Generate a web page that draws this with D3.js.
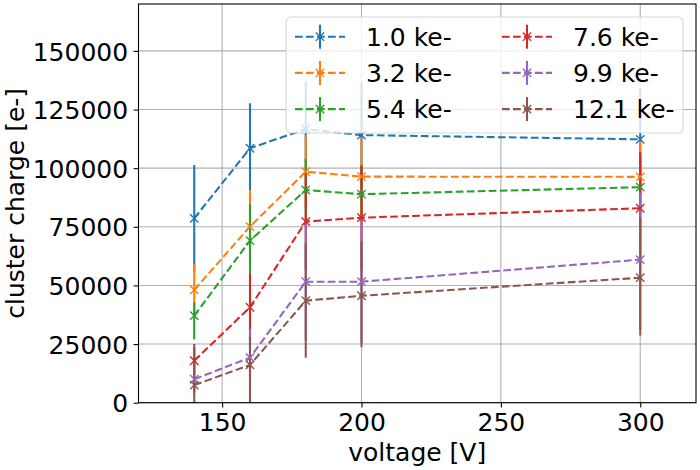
<!DOCTYPE html>
<html><head><meta charset="utf-8">
<script src="https://cdn.jsdelivr.net/npm/d3@7"></script>
<style>
body{margin:0;background:#fff}
svg{display:block}
text{font-family:"DejaVu Sans",sans-serif;fill:#000}
</style>
</head><body>
<svg id="chart" width="700" height="470"></svg>
<script>
// ---------- data ----------
const voltages = [140, 160, 180, 200, 300];
const seriesLabels = ["1.0 ke-", "3.2 ke-", "5.4 ke-", "7.6 ke-", "9.9 ke-", "12.1 ke-"];
const seriesColors = ["#1f77b4", "#ff7f0e", "#2ca02c", "#d62728", "#9467bd", "#8c564b"];
const chargeMean = [
  [78600, 108500, 116700, 114100, 112300],
  [48100, 75100, 98500, 96400, 96300],
  [37100, 69100, 90700, 88900, 91900],
  [17900, 40700, 77200, 78900, 82900],
  [10000, 19200, 51600, 51600, 61000],
  [7500, 16100, 43500, 45600, 53300]
];
const chargeLow = [
  [55800, 89300, 96500, 91500, 90500],
  [37000, 59500, 83000, 80000, 81000],
  [27000, 53500, 77500, 77000, 80000],
  [12000, 26500, 56600, 56700, 59000],
  [4000, 7100, 26700, 25300, 31300],
  [-10000, -4000, 19200, 23600, 28600]
];
const chargeHigh = [
  [101400, 127700, 136900, 136500, 134100],
  [59100, 90700, 114000, 113000, 111500],
  [42700, 84700, 103900, 101000, 104000],
  [23500, 54900, 97800, 101100, 106800],
  [16000, 31300, 76500, 77900, 89500],
  [25000, 28200, 68000, 68700, 79100]
];
const xTicks = [150, 200, 250, 300];
const yTicks = [0, 25000, 50000, 75000, 100000, 125000, 150000];
const xDomain = [120, 320];
const yDomain = [0, 170000];
const xLabel = "voltage [V]";
const yLabel = "cluster charge [e-]";

// ---------- layout ----------
const W = 700, H = 470;
const L = 138.5, R = 696, T = 4, B = 402.7;
const FS = 25;
const LW = 2.08;
const DASH = "7.7,3.3";

const svg = d3.select("#chart");
const x = d3.scaleLinear().domain(xDomain).range([L, R]);
const y = d3.scaleLinear().domain(yDomain).range([B, T]);

svg.append("defs").append("clipPath").attr("id", "plotclip")
  .append("rect").attr("x", L).attr("y", T).attr("width", R - L).attr("height", B - T);

// grid
const grid = svg.append("g");
grid.selectAll(".gx").data(xTicks).join("line")
  .attr("x1", d => x(d)).attr("x2", d => x(d)).attr("y1", T).attr("y2", B)
  .attr("stroke", "#b0b0b0").attr("stroke-width", 1.1);
grid.selectAll(".gy").data(yTicks).join("line")
  .attr("y1", d => y(d)).attr("y2", d => y(d)).attr("x1", L).attr("x2", R)
  .attr("stroke", "#b0b0b0").attr("stroke-width", 1.1);

const plot = svg.append("g").attr("clip-path", "url(#plotclip)");

// error bars (all below lines, like matplotlib zorder)
chargeMean.forEach((s, i) => {
  plot.append("g").selectAll("line").data(voltages).join("line")
    .attr("x1", d => x(d)).attr("x2", d => x(d))
    .attr("y1", (d, j) => y(chargeLow[i][j])).attr("y2", (d, j) => y(chargeHigh[i][j]))
    .attr("stroke", seriesColors[i]).attr("stroke-width", LW);
});

// lines + markers
const line = d3.line().x(d => x(d[0])).y(d => y(d[1]));
const ms = 4.17;
function marker(g, cx, cy, color) {
  g.append("path")
    .attr("d", `M${cx - ms},${cy - ms}L${cx + ms},${cy + ms}M${cx - ms},${cy + ms}L${cx + ms},${cy - ms}`)
    .attr("stroke", color).attr("stroke-width", 1.4).attr("fill", "none");
}
chargeMean.forEach((s, i) => {
  const pts = voltages.map((v, j) => [v, s[j]]);
  plot.append("path").datum(pts).attr("d", line)
    .attr("fill", "none").attr("stroke", seriesColors[i]).attr("stroke-width", LW)
    .attr("stroke-dasharray", DASH);
  const mg = plot.append("g");
  pts.forEach(p => marker(mg, x(p[0]), y(p[1]), seriesColors[i]));
});

// axes
const xAxis = svg.append("g").attr("transform", `translate(0,${B})`)
  .call(d3.axisBottom(x).tickValues(xTicks).tickSize(4.9).tickSizeOuter(0).tickPadding(4.9).tickFormat(d3.format("d")));
xAxis.selectAll("text").attr("font-size", FS).attr("dy", "0.76em");
const yAxis = svg.append("g").attr("transform", `translate(${L},0)`)
  .call(d3.axisLeft(y).tickValues(yTicks).tickSize(4.9).tickSizeOuter(0).tickPadding(5.5).tickFormat(d3.format("d")));
yAxis.selectAll("text").attr("font-size", FS).attr("dy", "0.364em");
[xAxis, yAxis].forEach(a => {
  a.select(".domain").remove();
  a.selectAll(".tick line").attr("stroke", "#000").attr("stroke-width", 1.1);
  a.attr("font-family", null);
});

// spines
svg.append("rect").attr("x", L).attr("y", T).attr("width", R - L).attr("height", B - T)
  .attr("fill", "none").attr("stroke", "#000").attr("stroke-width", 1.1);

// axis labels
svg.append("text").attr("x", (L + R) / 2).attr("y", 461).attr("text-anchor", "middle")
  .attr("font-size", FS).text(xLabel);
svg.append("text").attr("transform", `translate(23.5,${(T + B) / 2}) rotate(-90)`)
  .attr("text-anchor", "middle").attr("font-size", FS).text(yLabel);

// legend
const lg = svg.append("g");
lg.append("rect").attr("x", 286).attr("y", 17).attr("width", 397).attr("height", 116)
  .attr("rx", 5).attr("fill", "#fff").attr("fill-opacity", 0.8)
  .attr("stroke", "#cccccc").attr("stroke-opacity", 0.8).attr("stroke-width", 1.1);
const colX = [295, 502];
const rowY = [36.7, 72.9, 109.1];
seriesLabels.forEach((lab, i) => {
  const cx = colX[Math.floor(i / 3)], cy = rowY[i % 3];
  lg.append("line").attr("x1", cx).attr("x2", cx + 50).attr("y1", cy).attr("y2", cy)
    .attr("stroke", seriesColors[i]).attr("stroke-width", LW).attr("stroke-dasharray", DASH);
  lg.append("line").attr("x1", cx + 25).attr("x2", cx + 25).attr("y1", cy - 12).attr("y2", cy + 12)
    .attr("stroke", seriesColors[i]).attr("stroke-width", LW);
  marker(lg, cx + 25, cy, seriesColors[i]);
  lg.append("text").attr("x", cx + 71).attr("y", cy).attr("dy", "0.364em")
    .attr("font-size", FS).text(lab);
});
</script>
</body></html>
